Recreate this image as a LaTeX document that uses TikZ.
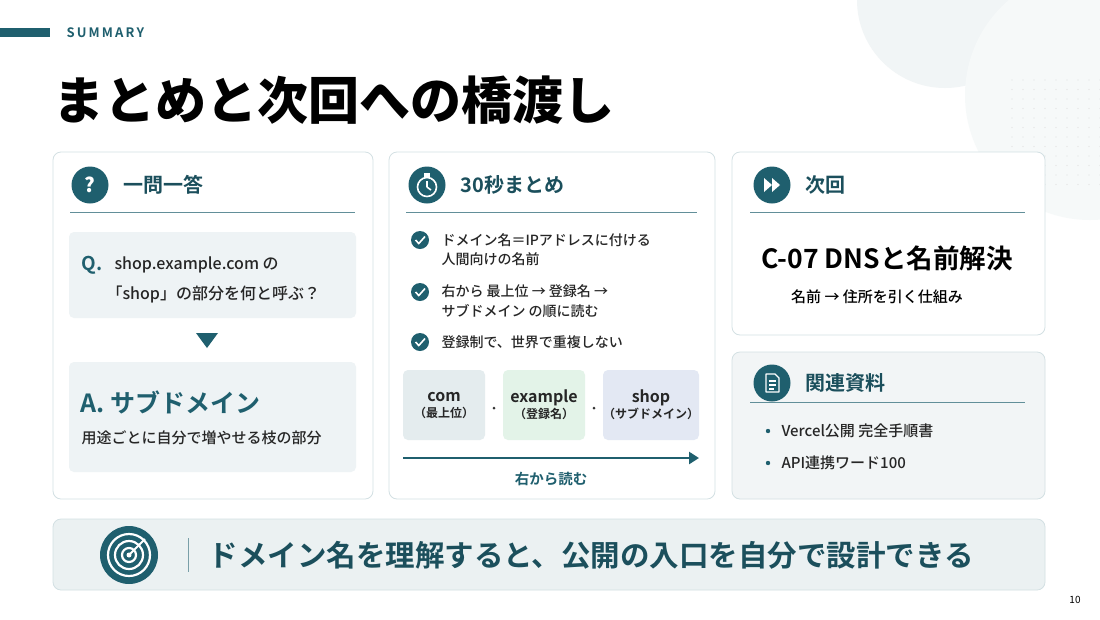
\documentclass[tikz,border=0pt]{standalone}
\usepackage{fontspec}
\setmainfont{Noto Sans CJK JP}[BoldFont={* Black}]
\newfontfamily\medf{Noto Sans CJK JP Medium}
\newfontfamily\bdf{Noto Sans CJK JP Bold}
\usetikzlibrary{arrows.meta}
\definecolor{teal}{HTML}{1F5F6E}
\definecolor{dteal}{HTML}{1B4F5C}
\definecolor{bord}{HTML}{D3E0E3}
\definecolor{lite}{HTML}{EEF3F5}
\begin{document}
\begin{tikzpicture}[x=1pt,y=-1pt,
 panel/.style={draw=bord,line width=0.8pt,rounded corners=8pt,fill=white},
 box/.style={rounded corners=5pt,fill=lite},
 ico/.style={circle,fill=teal,minimum size=37pt,inner sep=0pt,text=white,font=\bfseries\fontsize{20}{20}\selectfont},
 head/.style={anchor=west,font=\bdf\fontsize{20}{20}\selectfont,text=dteal},
 rule/.style={draw=teal!70,line width=0.7pt},
 txt/.style={anchor=west,font=\medf\fontsize{14}{14}\selectfont,text=black!85},
 chk/.style={circle,fill=teal,minimum size=18pt,inner sep=0pt},
 seg/.style={rounded corners=5pt,inner sep=0pt,minimum width=82pt,minimum height=70pt,align=center,font=\bdf\fontsize{16}{19}\selectfont,text=black!85}]
\useasboundingbox (0,0) rectangle (1100,619);
\fill[white] (0,0) rectangle (1100,619);
\fill[teal!6] (945,0) circle (88);
\fill[teal!4] (1090,95) circle (125);
\foreach \i in {0,...,8}\foreach \j in {0,...,11}
 \fill[black!12] (1012+\i*11,80+\j*9.5) circle (0.6);
\fill[teal] (0,28) rectangle (50,37);
\node[anchor=west,text=teal,font=\bdf\fontsize{13}{13}\selectfont] (sum) at (63,33) {S\,U\,M\,M\,A\,R\,Y};
\node[anchor=west,font=\bfseries\fontsize{51}{51}\selectfont] (title) at (50,100) {まとめと次回への橋渡し};
% panel 1
\draw[panel] (53,152) rectangle (373,499);
\node[ico] (i1) at (90,185) {?};
\node[head] (h1) at (120,185) {一問一答};
\draw[rule] (70,212) -- (355,212);
\fill[box] (69,232) rectangle (356,318);
\node[anchor=west,text=teal,font=\bdf\fontsize{19}{19}\selectfont] (q) at (78,265) {Q.};
\node[txt,font=\medf\fontsize{16}{16}\selectfont] (q1) at (111,265) {shop.example.com の};
\node[txt,font=\medf\fontsize{16}{16}\selectfont] (q2) at (103,294) {「shop」の部分を何と呼ぶ？};
\fill[teal] (196,333) -- (218,333) -- (207,348) -- cycle;
\fill[box] (69,362) rectangle (356,472);
\node[anchor=west,text=teal,font=\bdf\fontsize{25}{25}\selectfont] (a) at (77,402) {A. サブドメイン};
\node[txt,font=\medf\fontsize{15}{15}\selectfont] (a1) at (78,438) {用途ごとに自分で増やせる枝の部分};
% panel 2
\draw[panel] (389,152) rectangle (715,499);
\node[ico] (i2) at (427,185) {};
\draw[white,line width=1.6pt] (427,187) circle (9.5);
\draw[white,line width=1.6pt] (427,187) -- (427,181) (427,187) -- (431,190);
\fill[white] (424,173) rectangle (430,176.5);
\node[head] (h2) at (457,185) {30秒まとめ};
\draw[rule] (406,212) -- (697,212);
\foreach \n/\y in {c1/240,c2/292,c3/342}{
 \node[chk] (\n) at (420,\y) {};
 \draw[white,line width=1.6pt] (415.5,\y) -- (418.8,\y+3.5) -- (425,\y-3.5);}
\node[txt] (t1) at (438,240) {ドメイン名＝IPアドレスに付ける};
\node[txt] (t1b) at (438,259) {人間向けの名前};
\node[txt] (t2) at (438,291) {右から 最上位 → 登録名 →};
\node[txt] (t2b) at (438,311) {サブドメイン の順に読む};
\node[txt] (t3) at (438,342) {登録制で、世界で重複しない};
\node[seg,fill=teal!12] (com) at (444,405) {com\\[-3pt]{\fontsize{12}{14}\selectfont （最上位）}};
\node[seg,fill=green!40!teal!12] (ex) at (544,405) {example\\[-3pt]{\fontsize{12}{14}\selectfont （登録名）}};
\node[seg,fill=blue!30!teal!12,minimum width=96pt] (shop) at (651,405) {shop\\[-3pt]{\fontsize{12}{14}\selectfont （サブドメイン）}};
\fill[black!80] (494,408) circle (1.5) (594,408) circle (1.5);
\coordinate (ar1) at (403,458); \coordinate (ar2) at (699,458);
\draw[teal,line width=2.8pt,-{Triangle[length=10pt,width=12pt]}] (ar1) -- (ar2);
\node[text=teal,font=\bdf\fontsize{14.5}{14.5}\selectfont] (rd) at (551,479) {右から読む};
% panel 3
\draw[panel] (732,152) rectangle (1045,335);
\node[ico] (i3) at (772,185) {};
\fill[white] (764,178) -- (772,185) -- (764,192) -- cycle (772,178) -- (780,185) -- (772,192) -- cycle;
\node[head] (h3) at (802,185) {次回};
\draw[rule] (750,212) -- (1025,212);
\node[font=\bdf\fontsize{26.5}{26.5}\selectfont] (nx) at (887,258) {C-07 DNSと名前解決};
\node[font=\medf\fontsize{15}{15}\selectfont] (nx2) at (877,297) {名前 → 住所を引く仕組み};
% panel 4
\draw[panel,fill=teal!6] (732,352) rectangle (1045,499);
\node[ico] (i4) at (772,383) {};
\draw[white,line width=1.4pt,line join=round] (766,374) -- (775,374) -- (779,378) -- (779,392) -- (766,392) -- cycle;
\draw[white,line width=1.2pt] (769,381) -- (776,381) (769,385) -- (776,385) (769,389) -- (774,389);
\node[head] (h4) at (802,383) {関連資料};
\draw[rule] (750,402) -- (1025,402);
\fill[teal] (768,431) circle (2.2) (768,463) circle (2.2);
\node[txt,font=\medf\fontsize{15}{15}\selectfont] (r1) at (778,431) {Vercel公開 完全手順書};
\node[txt,font=\medf\fontsize{15}{15}\selectfont] (r2) at (778,463) {API連携ワード100};
% banner
\draw[draw=bord,line width=0.8pt,rounded corners=8pt,fill=teal!9] (53,519) rectangle (1045,590);
\node[circle,fill=teal,minimum size=58pt,inner sep=0pt] (tg) at (129,555) {};
\foreach \r in {21,14,7}{\draw[white,line width=2.2pt] (tg) circle (\r);}
\fill[white] (tg) circle (2.5);
\draw[white,line width=2pt] (tg.center) -- ++(16,-16);
\draw[teal!60,line width=1pt] (188,538) -- (188,572);
\node[anchor=west,text=dteal,font=\bdf\fontsize{29.5}{29.5}\selectfont] (msg) at (205,555) {ドメイン名を理解すると、公開の入口を自分で設計できる};
\node[font=\fontsize{10}{10}\selectfont] (pg) at (1075,600) {10};
\end{tikzpicture}
\end{document}
